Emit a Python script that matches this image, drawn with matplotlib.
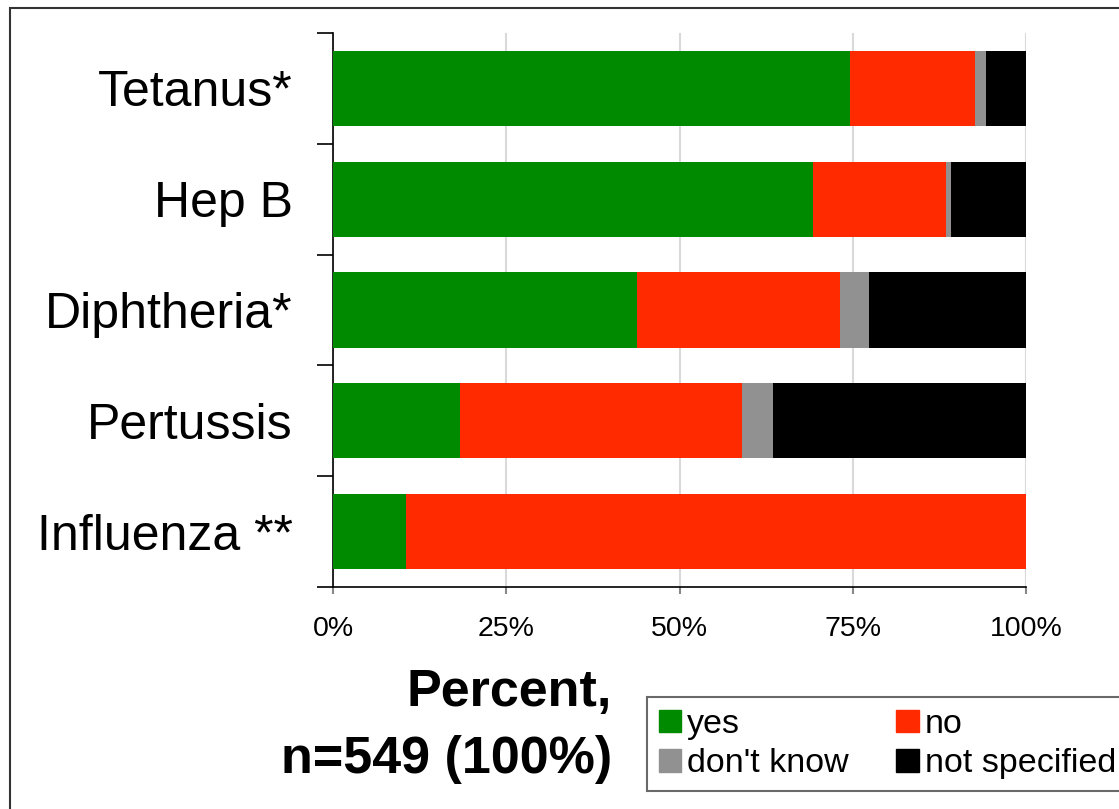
import matplotlib.pyplot as plt
import matplotlib.patches as mpatches
import numpy as np

plt.rcParams['font.family'] = ['Liberation Sans', 'DejaVu Sans']

# vaccines, top to bottom
vaccines = ['Tetanus*', 'Hep B', 'Diphtheria*', 'Pertussis', 'Influenza **']
# percent of respondents per answer
yes = [74.6, 69.3, 43.9, 18.3, 10.5]
no = [18.0, 19.2, 29.3, 40.7, 89.5]
dont_know = [1.6, 0.7, 4.1, 4.5, 0.0]
not_specified = [5.8, 10.8, 22.7, 36.5, 0.0]

series = [('yes', yes, '#008a00'),
          ('no', no, '#ff2a00'),
          ("don't know", dont_know, '#919191'),
          ('not specified', not_specified, '#000000')]

fig = plt.figure(figsize=(11.19, 8.09), dpi=100)
W, H = 1119, 809
ax = fig.add_axes([333 / W, 1 - 587 / H, (1026 - 333) / W, (587 - 33) / H])

y = np.arange(len(vaccines))
left = np.zeros(len(vaccines))
handles = []
for name, vals, col in series:
    vals = np.array(vals)
    ax.barh(y, vals, left=left, height=0.68, color=col, linewidth=0, zorder=3)
    left += vals
    handles.append(mpatches.Patch(color=col, label=name))

ax.set_xlim(0, 100)
ax.set_ylim(len(vaccines) - 0.5, -0.5)

ax.set_xticks([0, 25, 50, 75, 100])
ax.set_xticklabels(['0%', '25%', '50%', '75%', '100%'], fontsize=20.5)
ax.tick_params(axis='x', length=5, width=1.5, color='#888888', pad=16)
ax.xaxis.grid(True, color='#d9d9d9', linewidth=1.5, zorder=0)
ax.set_axisbelow(True)

ax.set_yticks(y)
ax.set_yticklabels(vaccines, fontsize=36)
ax.tick_params(axis='y', which='major', length=0, pad=29)
ax.set_yticks(np.arange(len(vaccines) + 1) - 0.5, minor=True)
ax.tick_params(axis='y', which='minor', length=11.5, width=1.2, color='black')

for s in ['top', 'right']:
    ax.spines[s].set_visible(False)
ax.spines['left'].set_linewidth(1.2)
ax.spines['bottom'].set_linewidth(1.2)

fig.text(612 / W, 1 - 693 / H, 'Percent,', fontsize=37.5, fontweight='bold',
         ha='right', va='center')
fig.text(612 / W, 1 - 760 / H, 'n=549 (100%)', fontsize=37.5, fontweight='bold',
         ha='right', va='center')

# legend fills row by row: yes, no / don't know, not specified
order = [0, 2, 1, 3]
leg = fig.legend(handles=[handles[i] for i in order], ncol=2, loc='upper left',
                 bbox_to_anchor=(647 / W, 1 - 697 / H), fontsize=24.5,
                 frameon=True, fancybox=False, handlelength=0.65,
                 handleheight=0.65, handletextpad=0.18, columnspacing=1.4,
                 labelspacing=0.25, borderpad=0.35, borderaxespad=0)
leg.get_frame().set_edgecolor('#444444')
leg.get_frame().set_linewidth(1.5)

# outer frame around the chart
frame = mpatches.Rectangle((10 / W, -0.1), 1.2, 1 - 8 / H + 0.1,
                           transform=fig.transFigure, fill=False,
                           edgecolor='#333333', linewidth=1.5, clip_on=False)
fig.patches.append(frame)

fig.savefig('out.png', dpi=100)
